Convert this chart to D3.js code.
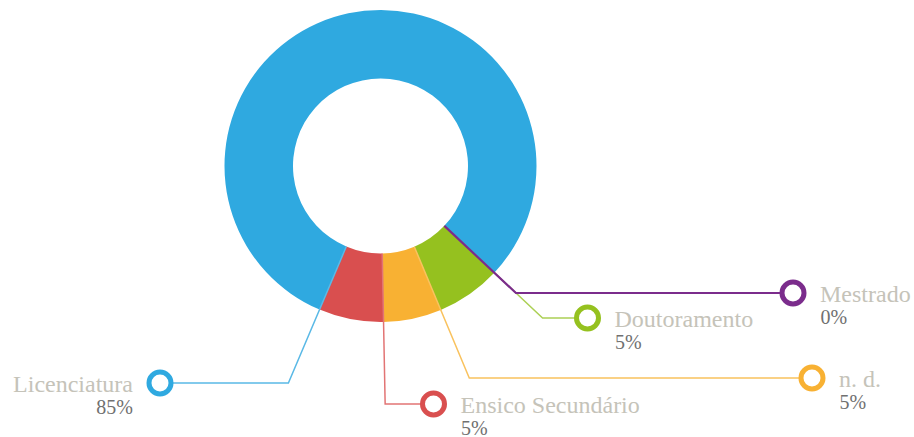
<!DOCTYPE html>
<html>
<head>
<meta charset="utf-8">
<script src="https://cdn.jsdelivr.net/npm/d3@7"></script>
<style>
  html, body { margin: 0; padding: 0; background: #fff; }
  svg { display: block; }
</style>
</head>
<body>
<svg id="chart" width="914" height="437"></svg>
<script>
// ---- data ----
const categories = ["Licenciatura", "Mestrado", "Doutoramento", "n. d.", "Ensico Secundário"];
const percentLabels = ["85%", "0%", "5%", "5%", "5%"];
// slice weights as drawn in the picture (share of the ring, %)
const sliceValues = [80.6, 0, 6.7, 6.0, 6.7];
const colors = ["#2fa9e0", "#7b2c8c", "#95c11f", "#f8b133", "#d94f4f"];
const lineColors = ["#5ab9e6", "#7b2c8c", "#acd055", "#f9c25e", "#e27474"];

// ---- layout ----
const cx = 380.5, cy = 166, R = 156, r = 87.5;
const startDeg = 203;
// marker positions (label rows) and label side
const markers = [
  {x: 160, y: 383, side: "left"},
  {x: 793, y: 293, side: "right"},
  {x: 587.5, y: 318, side: "right"},
  {x: 812, y: 378, side: "right"},
  {x: 433.5, y: 404, side: "right"}
];

const svg = d3.select("#chart");
const g = svg.append("g").attr("transform", `translate(${cx},${cy})`);

const pie = d3.pie().sort(null).value(d => d)
  .startAngle(startDeg * Math.PI / 180)
  .endAngle(startDeg * Math.PI / 180 + 2 * Math.PI);
const arcs = pie(sliceValues);
const arc = d3.arc().innerRadius(r).outerRadius(R);

g.selectAll("path.slice").data(arcs).enter().append("path")
  .attr("class", "slice")
  .attr("d", arc)
  .attr("fill", (d, i) => colors[i]);

// leader lines: from inner radius at slice start angle, radially to marker row, then horizontal
const drawOrder = [0, 2, 3, 4, 1];
drawOrder.forEach(i => {
  const d = arcs[i];
  const a = d.startAngle;
  const sx = Math.sin(a), sy = -Math.cos(a);
  const x0 = sx * r, y0 = sy * r;
  const m = markers[i];
  const ey = m.y - cy;
  const t = ey / sy;
  const ex = sx * t;
  svg.append("path")
    .attr("d", d3.line()([[cx + x0, cy + y0], [cx + ex, m.y], [m.x, m.y]]))
    .attr("fill", "none")
    .attr("stroke", lineColors[i])
    .attr("stroke-width", i === 1 ? 2.2 : 1.5);
});

// markers and labels
markers.forEach((m, i) => {
  svg.append("circle")
    .attr("cx", m.x).attr("cy", m.y).attr("r", 11)
    .attr("fill", "#fff")
    .attr("stroke", colors[i])
    .attr("stroke-width", 5);
  const left = m.side === "left";
  const tx = left ? m.x - 27 : m.x + 27;
  svg.append("text")
    .attr("x", tx).attr("y", m.y + 8.5)
    .attr("text-anchor", left ? "end" : "start")
    .attr("font-family", "'Liberation Serif', 'Times New Roman', serif")
    .attr("font-size", 24)
    .attr("fill", "#c5c3b9")
    .text(categories[i]);
  svg.append("text")
    .attr("x", left ? tx : tx + 0.5).attr("y", m.y + 30.5)
    .attr("text-anchor", left ? "end" : "start")
    .attr("font-family", "'Liberation Serif', 'Times New Roman', serif")
    .attr("font-size", 20)
    .attr("fill", "#707070")
    .text(percentLabels[i]);
});
</script>
</body>
</html>
